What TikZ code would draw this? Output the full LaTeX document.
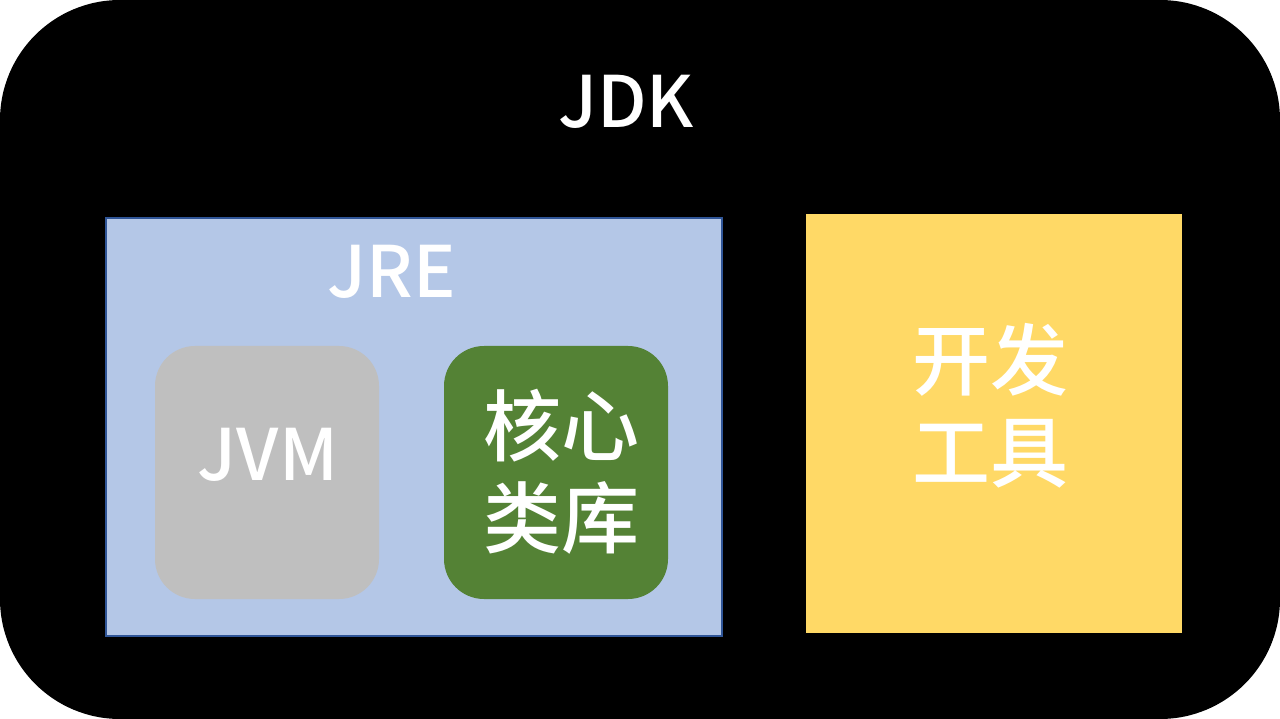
\documentclass[tikz,border=0pt]{standalone}
\usepackage{fontspec}
\setmainfont{Noto Sans CJK SC}[UprightFont={* Medium},BoldFont={* Bold}]
\newfontfamily\cjk{Noto Sans CJK SC}[UprightFont={* Medium},BoldFont={* Bold}]
\definecolor{jreblue}{HTML}{B4C7E7}
\definecolor{jreline}{HTML}{2F5597}
\definecolor{jvmgray}{HTML}{BFBFBF}
\definecolor{libgreen}{HTML}{548235}
\definecolor{toolyellow}{HTML}{FFD966}
\tikzset{
	box/.style={draw=none,shape=rectangle,inner sep=0pt},
	title/.style={text=white,font=\fontsize{71}{80}\selectfont,anchor=base,inner sep=0pt},
	cjklabel/.style={text=white,font=\cjk\fontsize{78}{92}\selectfont,align=center,inner sep=0pt}
}

\begin{document}
\begin{tikzpicture}[x=1pt, y=-1pt]
	\useasboundingbox (0,0) rectangle (1280,719);
	\fill[white] (0,0) rectangle (1280,719);
	\node[box, fill=black, rounded corners=120pt, minimum width=1280pt, minimum height=719pt] (jdk) at (640,359.5) {};
	\node[title] (jdklabel) at (626,128) {JDK};
	\node[box, fill=jreblue, draw=jreline, line width=1.5pt, minimum width=616pt, minimum height=418pt] (jre) at (414,427) {};
	\node[title] (jrelabel) at (392,298) {JRE};
	\node[box, fill=jvmgray, rounded corners=40pt, minimum width=224pt, minimum height=253pt] (jvm) at (267,472.5) {};
	\node[title] (jvmlabel) at (268,480) {JVM};
	\node[box, fill=libgreen, rounded corners=40pt, minimum width=224pt, minimum height=253pt] (lib) at (556,472.5) {};
	\node[cjklabel] (liblabel) at (561,472) {核心\\类库};
	\node[box, fill=toolyellow, minimum width=376pt, minimum height=419pt] (tools) at (994,423.5) {};
	\node[cjklabel] (toolslabel) at (990,406) {开发\\工具};
\end{tikzpicture}
\end{document}
